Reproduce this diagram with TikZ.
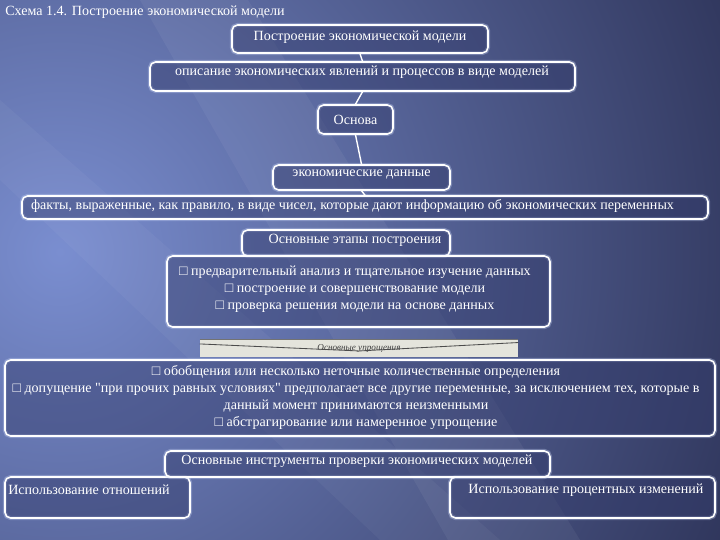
\documentclass[tikz,border=0pt]{standalone}
\usepackage{fontspec}
\setmainfont{Liberation Serif}[Ligatures=TeXOff]
\usetikzlibrary{positioning}
\definecolor{bgdark}{RGB}{40,45,80}
\definecolor{bglite}{RGB}{122,142,208}
\definecolor{boxfill}{RGB}{50,58,106}
\definecolor{glow}{RGB}{200,212,245}
\definecolor{stripgray}{RGB}{228,228,220}

\begin{document}
\begin{tikzpicture}[every node/.style={font=\fontsize{10}{12}\selectfont,text=white},
  box/.style={draw=white,line width=1.1pt,rounded corners=4pt,fill=boxfill,fill opacity=.45,
    inner sep=0pt,preaction={draw=glow,line width=3pt,draw opacity=.35}},
  txt/.style={inner sep=0pt,align=center},
  conn/.style={draw=white,line width=1pt}]
% background
\useasboundingbox (0,0) rectangle (18,13.5);
\fill[bgdark] (0,0) rectangle (18,13.5);
\begin{scope}
\clip (0,0) rectangle (18,13.5);
\shade[inner color=bglite,outer color=bgdark] (1.5,7.2) circle (20);
\fill[white,opacity=.05] (3.5,13.5) -- (6.2,13.5) -- (14.5,0) -- (11.2,0) -- cycle;
\fill[white,opacity=.04] (0,11.0) -- (0,9.0) -- (9.5,0) -- (12.5,0) -- cycle;
\end{scope}
\node[anchor=west,inner sep=0pt] (title) at (0.125,13.2) {Схема 1.4. Построение экономической модели};
% boxes
\node[box,minimum width=6.4cm,minimum height=0.7cm] (b1) at (9.0000,12.5250) {};
\node[box,minimum width=10.625cm,minimum height=0.725cm] (b2) at (9.0625,11.5875) {};
\node[box,minimum width=1.875cm,minimum height=0.725cm] (b3) at (8.8875,10.5125) {};
\node[box,minimum width=4.425cm,minimum height=0.625cm] (b4) at (9.0375,9.0625) {};
\node[box,minimum width=17.15cm,minimum height=0.575cm] (b5) at (9.1250,8.3125) {};
\node[box,minimum width=5.2cm,minimum height=0.65cm] (b6) at (8.6500,7.4250) {};
\node[box,minimum width=9.575cm,minimum height=1.775cm] (b7) at (8.9625,6.2125) {};
\node[box,minimum width=17.75cm,minimum height=1.9cm] (b9) at (9.0000,3.5500) {};
\node[box,minimum width=4.625cm,minimum height=1.025cm] (b11) at (2.4375,1.0625) {};
\node[box,minimum width=6.625cm,minimum height=1.025cm] (b12) at (14.5625,1.0625) {};
\node[box,minimum width=9.625cm,minimum height=0.65cm] (b10) at (8.9375,1.9000) {};
% connectors
\draw[conn] (b1.south) -- (b2.north);
\draw[conn] (b2.south) -- (b3.north);
\draw[conn] (b3.south) -- (b4.north);
\draw[conn] (b4.south) -- (b5.north);
% texts
\node[txt] (t1) at (9.0000,12.5750) {Построение экономической модели};
\node[txt] (t2) at (9.0500,11.7000) {описание экономических явлений и процессов в виде моделей};
\node[txt] (t3) at (8.8875,10.5125) {Основа};
\node[txt] (t4) at (9.0375,9.1250) {экономические данные};
\node[txt] (t5) at (8.8125,8.3500) {факты, выраженные, как правило, в виде чисел, которые дают информацию об экономических переменных};
\node[txt] (t6) at (8.8750,7.5000) {Основные этапы построения};
\node[txt] (t7) at (8.8750,6.2750) {□ предварительный анализ и тщательное изучение данных\\
  □ построение и совершенствование модели\\
  □ проверка решения модели на основе данных};
% strip
\node[fill=stripgray,minimum width=7.95cm,minimum height=0.425cm,inner sep=0pt,
  font=\itshape\fontsize{6.5}{7}\selectfont,text=black!75] (simp) at (8.9750,4.7875) {Основные упрощения};
\draw[black!70,line width=.6pt] ([yshift=-3pt]simp.north west) -- ([yshift=-8pt]simp.north) -- ([yshift=-2pt]simp.north east);
\draw[black!55,line width=.4pt] (simp.north west) -- (simp.north east);
\node[txt] (t9) at (8.9000,3.5625) {□ обобщения или несколько неточные количественные определения\\
  □ допущение "при прочих равных условиях" предполагает все другие переменные, за исключением тех, которые в\\
  данный момент принимаются неизменными\\
  □ абстрагирование или намеренное упрощение};
\node[txt] (t10) at (8.9250,1.9750) {Основные инструменты проверки экономических моделей};
\node[txt,anchor=west] (t11) at (0.2000,1.2500) {Использование отношений};
\node[txt] (t12) at (14.6500,1.2500) {Использование процентных изменений};
\end{tikzpicture}
\end{document}
